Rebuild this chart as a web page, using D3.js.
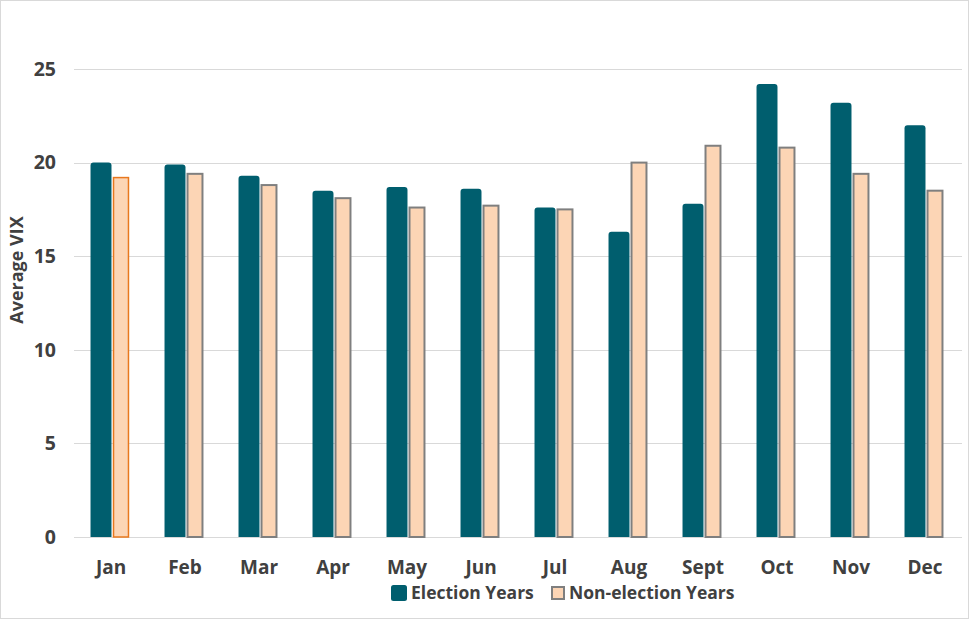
<!DOCTYPE html>
<html>
<head>
<meta charset="utf-8">
<script src="https://cdn.jsdelivr.net/npm/d3@7"></script>
<style>
  html, body { margin: 0; padding: 0; background: #fff; }
  svg text { font-family: "Open Sans", "Noto Sans", sans-serif; font-weight: 700; fill: #404040; }
</style>
</head>
<body>
<div id="chart"></div>
<script>
// Data
const months = ["Jan", "Feb", "Mar", "Apr", "May", "Jun", "Jul", "Aug", "Sept", "Oct", "Nov", "Dec"];
const seriesNames = ["Election Years", "Non-election Years"];
const electionYears = [20.0, 19.9, 19.3, 18.5, 18.7, 18.6, 17.6, 16.3, 17.8, 24.2, 23.2, 22.0];
const nonElectionYears = [19.2, 19.4, 18.8, 18.1, 17.6, 17.7, 17.5, 20.0, 20.9, 20.8, 19.4, 18.5];
const yTicks = [0, 5, 10, 15, 20, 25];

const width = 970;
const height = 620;
const margin = { top: 69, right: 8, bottom: 83, left: 74 };

const colors = {
	election: "#005E6E",
	nonElection: "#FCD5B5",
	stroke: "#7F7F7F",
	highlight: "#E8781E",
	grid: "#D9D9D9"
};

const svg = d3.select("#chart")
	.append("svg")
	.attr("width", width)
	.attr("height", height);

// Chart border
svg.append("rect")
	.attr("x", 0.5)
	.attr("y", 0.5)
	.attr("width", width - 2)
	.attr("height", height - 2)
	.attr("fill", "#fff")
	.attr("stroke", colors.grid);

// Scales
const x = d3.scaleBand()
	.domain(months)
	.range([margin.left, width - margin.right]);

const xInner = d3.scaleBand()
	.domain(seriesNames)
	.range([x.bandwidth() * 0.23, x.bandwidth() * 0.77])
	.paddingInner(0.05);

const y = d3.scaleLinear()
	.domain([0, 25])
	.range([height - margin.bottom, margin.top]);

// Gridlines
svg.append("g")
	.attr("class", "grid")
	.selectAll("line")
	.data(yTicks)
	.enter()
	.append("line")
	.attr("x1", margin.left)
	.attr("x2", width - margin.right)
	.attr("y1", d => Math.round(y(d)) + 0.5)
	.attr("y2", d => Math.round(y(d)) + 0.5)
	.attr("stroke", colors.grid)
	.attr("stroke-width", 1);

// Y axis labels
const yAxis = d3.axisLeft(y).tickValues(yTicks).tickSize(0).tickPadding(18);
svg.append("g")
	.attr("transform", `translate(${margin.left},0)`)
	.call(yAxis)
	.call(g => g.select(".domain").remove())
	.selectAll("text")
	.style("font-size", "19.5px")
	.attr("fill", "#404040");

// X axis labels
const xAxis = d3.axisBottom(x).tickSize(0).tickPadding(24);
svg.append("g")
	.attr("transform", `translate(0,${height - margin.bottom})`)
	.call(xAxis)
	.call(g => g.select(".domain").remove())
	.selectAll("text")
	.style("font-size", "19px")
	.attr("fill", "#404040");

// Axis title
svg.append("text")
	.attr("transform", `translate(23,270) rotate(-90)`)
	.attr("text-anchor", "middle")
	.style("font-size", "18px")
	.text("Average VIX");

// Bar with rounded top corners
function roundedTop(x0, y0, w, h, r) {
	return `M${x0},${y0 + h}V${y0 + r}Q${x0},${y0} ${x0 + r},${y0}H${x0 + w - r}Q${x0 + w},${y0} ${x0 + w},${y0 + r}V${y0 + h}Z`;
}

const groups = svg.append("g")
	.selectAll("g.month")
	.data(months)
	.enter()
	.append("g")
	.attr("class", "month")
	.attr("transform", d => `translate(${x(d)},0)`);

// Election years
groups.append("path")
	.attr("fill", colors.election)
	.attr("d", (d, i) => {
		let bx = xInner(seriesNames[0]) - 0.5;
		let bw = xInner.bandwidth() + 1.5;
		let top = y(electionYears[i]);
		return roundedTop(bx, top, bw, y(0) - top, 3);
	});

// Non-election years
groups.append("rect")
	.attr("x", xInner(seriesNames[1]) + 2)
	.attr("width", xInner.bandwidth() - 4.5)
	.attr("y", (d, i) => y(nonElectionYears[i]))
	.attr("height", (d, i) => y(0) - y(nonElectionYears[i]))
	.attr("fill", colors.nonElection)
	.attr("stroke", (d, i) => i === 0 ? colors.highlight : colors.stroke)
	.attr("stroke-width", (d, i) => i === 0 ? 1.5 : 2);

// Legend
const legend = svg.append("g").attr("class", "legend");

legend.append("rect")
	.attr("x", 391)
	.attr("y", 585)
	.attr("width", 16)
	.attr("height", 16)
	.attr("rx", 2.5)
	.attr("fill", colors.election);

legend.append("text")
	.attr("x", 411)
	.attr("y", 599)
	.style("font-size", "17.5px")
	.text(seriesNames[0]);

legend.append("rect")
	.attr("x", 552)
	.attr("y", 587)
	.attr("width", 12)
	.attr("height", 12)
	.attr("fill", colors.nonElection)
	.attr("stroke", colors.stroke)
	.attr("stroke-width", 2);

legend.append("text")
	.attr("x", 569)
	.attr("y", 599)
	.style("font-size", "17.5px")
	.text(seriesNames[1]);
</script>
</body>
</html>
